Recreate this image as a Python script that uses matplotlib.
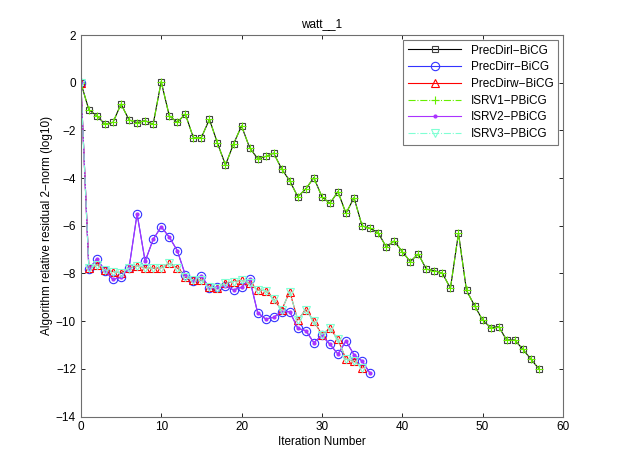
import matplotlib
matplotlib.use('Agg')

import matplotlib.pyplot as plt
import numpy as np

# residuos (log10)
prec_l = [0, -1.14, -1.38, -1.74, -1.66, -0.89, -1.56, -1.67, -1.59, -1.74,
          0.05, -1.38, -1.66, -1.31, -2.30, -2.30, -1.53, -2.53, -3.45, -2.57,
          -1.81, -2.72, -3.18, -3.09, -2.95, -3.62, -4.11, -4.78, -4.45, -3.98,
          -4.78, -5.06, -4.57, -5.48, -4.82, -6.00, -6.11, -6.29, -6.88, -6.64,
          -7.08, -7.50, -7.18, -7.82, -7.88, -7.99, -8.62, -6.31, -8.71, -9.35,
          -9.95, -10.27, -10.23, -10.79, -10.79, -11.17, -11.59, -11.99]
prec_r = [0, -7.83, -7.38, -7.88, -8.25, -8.16, -7.76, -5.50, -7.49, -6.57,
          -6.04, -6.47, -7.04, -8.06, -8.31, -8.09, -8.61, -8.58, -8.52, -8.69,
          -8.58, -8.22, -9.64, -9.91, -9.84, -9.60, -9.60, -10.30, -10.40, -10.90,
          -10.60, -10.97, -11.38, -10.83, -11.41, -11.67, -12.19]
prec_w = [0, -7.78, -7.64, -7.85, -7.92, -7.97, -7.78, -7.67, -7.76, -7.78,
          -7.76, -7.58, -7.76, -8.16, -8.27, -8.27, -8.58, -8.60, -8.41, -8.34,
          -8.29, -8.40, -8.69, -8.72, -9.08, -9.53, -8.76, -9.95, -9.52, -10.00,
          -10.56, -10.30, -10.76, -11.60, -11.68, -11.96]
# las variantes ISRV coinciden con las PrecDir
isrv1 = prec_l
isrv2 = prec_r
isrv3 = prec_w

plt.rcParams['font.family'] = ['Liberation Sans', 'DejaVu Sans']
plt.rcParams['font.size'] = 8.5

fig = plt.figure(figsize=(6.22, 4.68), dpi=100)
ax = fig.add_axes([0.13, 0.11, 0.775, 0.815])

def it(v):
    return np.arange(len(v))

ax.plot(it(prec_l), prec_l, color='k', ls='-', marker='s', lw=0.8, ms=5,
        mfc='none', mec='#404040', mew=0.8, label='PrecDirl\u2212BiCG')
ax.plot(it(prec_r), prec_r, color='#3333ff', ls='-', marker='o', lw=0.8,
        ms=6, mfc='none', mew=0.8, label='PrecDirr\u2212BiCG')
ax.plot(it(prec_w), prec_w, color='#ff0000', ls='-', marker='^', lw=0.8,
        ms=6, mfc='none', mew=0.8, label='PrecDirw\u2212BiCG')
ax.plot(it(isrv1), isrv1, color='#66ee00', ls='-.', marker='+', lw=0.8,
        ms=6, mew=0.8, label='ISRV1\u2212PBiCG')
ax.plot(it(isrv2), isrv2, color='#aa33ff', ls='-', marker='.', lw=0.8,
        ms=4, label='ISRV2\u2212PBiCG')
ax.plot(it(isrv3), isrv3, color='#80ffd4', ls='-.', marker='v', lw=0.8,
        ms=6, mfc='none', mew=0.8, label='ISRV3\u2212PBiCG')

ax.set_xlim(0, 60)
ax.set_ylim(-14, 2)
ax.set_xticks(np.arange(0, 61, 10))
ax.set_yticks(np.arange(-14, 3, 2))
ax.tick_params(direction='in', top=True, right=True, length=3, width=0.6,
               colors='k', labelsize=8.5)
for s in ax.spines.values():
    s.set_color('#6e6e6e')
    s.set_linewidth(0.8)

ax.set_title('watt__1', fontsize=8.5)
ax.set_xlabel('Iteration Number', labelpad=2)
ax.set_ylabel('Algorithm relative residual 2\u2212norm (log10)', labelpad=2)

leg = ax.legend(loc='upper right', fancybox=False, handlelength=4.5,
                borderaxespad=0.4, labelspacing=0.4, fontsize=8.5)
leg.get_frame().set_edgecolor('#555555')
leg.get_frame().set_linewidth(0.8)

fig.savefig('out.png', dpi=100)
